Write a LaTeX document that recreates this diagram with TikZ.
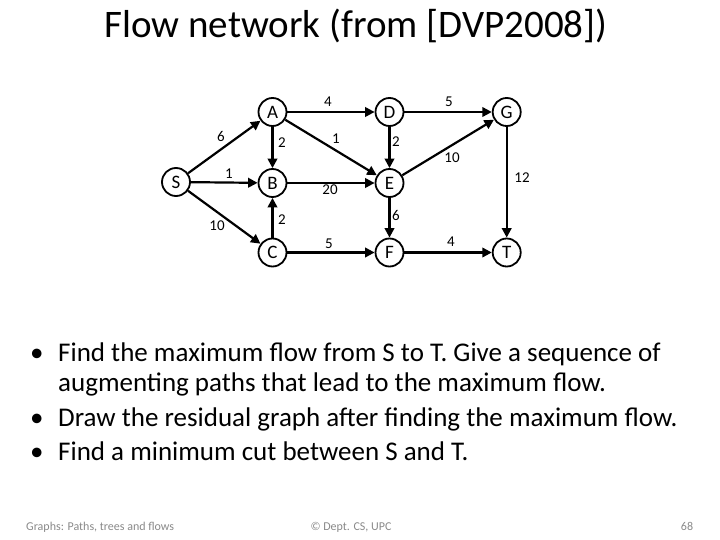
\documentclass[tikz,border=0pt]{standalone}
\usepackage{fontspec}
\setmainfont{Carlito}
\usetikzlibrary{arrows.meta}
\definecolor{footgray}{RGB}{137,137,137}
\tikzset{
  vtx/.style={circle,draw=black,line width=1.8pt,fill=white,minimum size=28pt,inner sep=0pt,font=\fontsize{19}{19}\selectfont},
  edge/.style={line width=2.2pt,-{Triangle[length=9.5pt,width=9.5pt]}},
  elab/.style={font=\fontsize{15}{15}\selectfont,inner sep=0pt},
  bul/.style={anchor=base west,inner sep=0pt,font=\fontsize{27}{27}\selectfont},
  foot/.style={anchor=base,inner sep=0pt,text=footgray,font=\fontsize{12}{12}\selectfont}
}
\begin{document}
\begin{tikzpicture}[x=1pt,y=-1pt]
\useasboundingbox (0,0) rectangle (720,540);
\node[anchor=base,inner sep=0pt,font=\fontsize{39}{39}\selectfont] (title) at (356,38) {Flow network (from [DVP2008])};
% vertices
\node[vtx] (S) at (176,182) {S};
\node[vtx] (A) at (272.5,112) {A};
\node[vtx] (B) at (272.5,183) {B};
\node[vtx] (C) at (272.5,252.5) {C};
\node[vtx] (D) at (389.5,112) {D};
\node[vtx] (E) at (389.5,183) {E};
\node[vtx] (F) at (389.5,252.5) {F};
\node[vtx] (G) at (506.7,112) {G};
\node[vtx] (T) at (506.7,252.5) {T};
% edges
\draw[edge] (S) -- (A);
\draw[edge] (S) -- (B);
\draw[edge] (S) -- (C);
\draw[edge] (A) -- (B);
\draw[edge] (A) -- (D);
\draw[edge] (A) -- (E);
\draw[edge] (B) -- (E);
\draw[edge] (C) -- (B);
\draw[edge] (C) -- (F);
\draw[edge] (D) -- (E);
\draw[edge] (D) -- (G);
\draw[edge] (E) -- (G);
\draw[edge] (E) -- (F);
\draw[edge] (F) -- (T);
\draw[edge] (G) -- (T);
% edge labels
\node[elab] (lSA) at (221,136) {6};
\node[elab] (lSB) at (229,174) {1};
\node[elab] (lSC) at (217,226) {10};
\node[elab] (lAB) at (282,143) {2};
\node[elab] (lAD) at (328,102) {4};
\node[elab] (lAE) at (336,139) {1};
\node[elab] (lBE) at (330,190) {20};
\node[elab] (lCB) at (282,220) {2};
\node[elab] (lCF) at (329,244) {5};
\node[elab] (lDE) at (396,142) {2};
\node[elab] (lDG) at (449,102) {5};
\node[elab] (lEG) at (452,158) {10};
\node[elab] (lEF) at (396,215) {6};
\node[elab] (lFT) at (451,242) {4};
\node[elab] (lGT) at (522,178) {12};
% bullets
\node[bul] (b1) at (30,361) {•};
\node[bul] (b2) at (30,426) {•};
\node[bul] (b3) at (30,460) {•};
\node[bul] (t1) at (58,361) {Find the maximum flow from S to T. Give a sequence of};
\node[bul] (t2) at (58,391) {augmenting paths that lead to the maximum flow.};
\node[bul] (t3) at (58,426) {Draw the residual graph after finding the maximum flow.};
\node[bul] (t4) at (58,460) {Find a minimum cut between S and T.};
% footer
\node[foot,anchor=base west] (f1) at (26,530) {Graphs: Paths, trees and flows};
\node[foot] (f2) at (351,530) {© Dept. CS, UPC};
\node[foot] (f3) at (687,530) {68};
\end{tikzpicture}
\end{document}
